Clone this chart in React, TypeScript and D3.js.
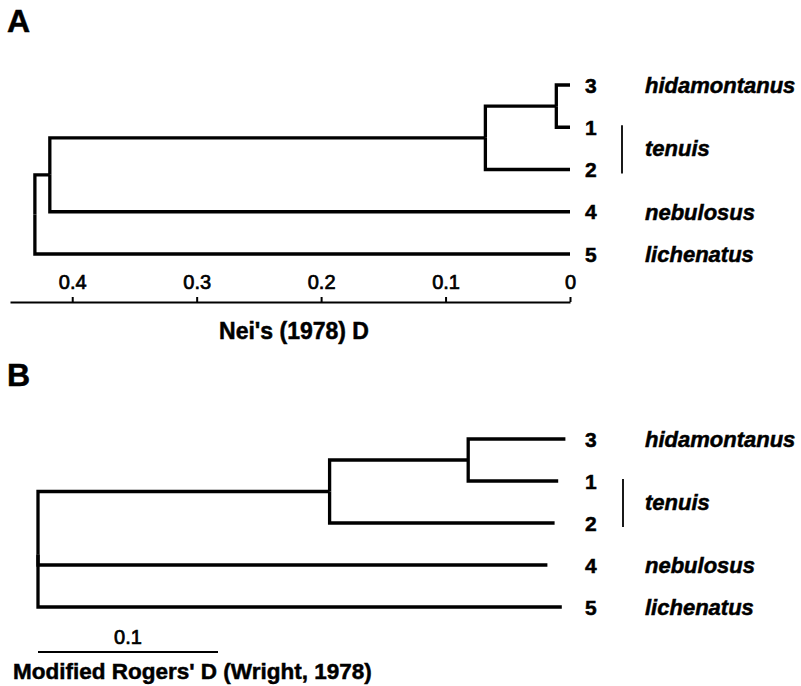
import { useEffect, useRef } from 'react'
import * as d3 from 'd3'

// leaf order top to bottom (population numbers)
const leafOrder = ['3', '1', '2', '4', '5']

// species labels, with the leaves they span
const species = [
    { name: 'hidamontanus', leaves: ['3'] },
    { name: 'tenuis', leaves: ['1', '2'] },
    { name: 'nebulosus', leaves: ['4'] },
    { name: 'lichenatus', leaves: ['5'] },
]

// A: UPGMA tree, node heights in Nei's D
const neiTree = {
    height: 0.43,
    children: [
        {
            height: 0.418,
            children: [
                {
                    height: 0.068,
                    children: [
                        { height: 0.011, children: [{ name: '3', height: 0 }, { name: '1', height: 0 }] },
                        { name: '2', height: 0 },
                    ],
                },
                { name: '4', height: 0 },
            ],
        },
        { name: '5', height: 0 },
    ],
}
const neiTicks = [0.4, 0.3, 0.2, 0.1, 0]

// B: tree with branch lengths in modified Rogers' D
const rogersTree = {
    length: 0,
    children: [
        {
            length: 0.162,
            children: [
                { length: 0.077, children: [{ name: '3', length: 0.054 }, { name: '1', length: 0.05 }] },
                { name: '2', length: 0.125 },
            ],
        },
        { name: '4', length: 0.283 },
        { name: '5', length: 0.291 },
    ],
}
const rogersBar = 0.1

const FONT = '"Liberation Sans", Arial, Helvetica, sans-serif'

// bold print text, a little heavier like the scan
function boldText(sel, size) {
    return sel
        .style('font-family', FONT)
        .style('font-weight', 'bold')
        .style('font-size', size + 'px')
        .style('stroke', '#000')
        .style('stroke-width', 0.5)
}

function drawTree(g, root, xOf, yScale) {
    // place leaves, then internal nodes at the middle of their children
    root.eachAfter(n => {
        n.px = xOf(n)
        if (n.children) {
            n.py = d3.mean(n.children, c => c.py)
        } else {
            n.py = yScale(n.data.name)
        }
    })

    g.selectAll('path.link')
        .data(root.links())
        .enter()
        .append('path')
        .attr('class', 'link')
        .attr('d', l => `M${l.source.px},${l.source.py}V${l.target.py}H${l.target.px}`)
        .style('fill', 'none')
        .style('stroke', '#000')
        .style('stroke-width', 3.3)
        .style('stroke-linejoin', 'miter')
}

function drawLabels(g, yScale, numX, nameX, barX) {
    g.selectAll('text.num')
        .data(leafOrder)
        .enter()
        .append('text')
        .attr('class', 'num')
        .attr('x', numX)
        .attr('y', d => yScale(d))
        .attr('dy', '0.36em')
        .call(boldText, 21)
        .text(d => d)

    g.selectAll('text.sp')
        .data(species)
        .enter()
        .append('text')
        .attr('class', 'sp')
        .attr('x', nameX)
        .attr('y', d => d3.mean(d.leaves, l => yScale(l)))
        .attr('dy', '0.36em')
        .call(boldText, 22)
        .style('font-style', 'italic')
        .text(d => d.name)

    g.selectAll('line.bar')
        .data(species.filter(d => d.leaves.length > 1))
        .enter()
        .append('line')
        .attr('class', 'bar')
        .attr('x1', barX)
        .attr('x2', barX)
        .attr('y1', d => yScale(d.leaves[0]) - 2)
        .attr('y2', d => yScale(d.leaves[d.leaves.length - 1]) + 4)
        .style('stroke', '#000')
        .style('stroke-width', 1.8)
}

function App() {
    const ref = useRef(null)

    useEffect(() => {
        document.body.style.margin = '0'
        const svg = d3.select(ref.current)
        svg.selectAll('*').remove()

        // ---------- panel A ----------
        const a = svg.append('g')
        a.append('text')
            .attr('x', 7)
            .attr('y', 32)
            .call(boldText, 32)
            .text('A')

        const xA = d3.scaleLinear().domain([0.45, 0]).range([10, 570])
        const yA = d3.scalePoint().domain(leafOrder).range([85, 254])
        const rootA = d3.hierarchy(neiTree)
        drawTree(a, rootA, n => xA(n.data.height), yA)
        drawLabels(a, yA, 585, 645, 622)

        const axisA = a.append('g')
            .attr('transform', 'translate(0,302)')
            .call(
                d3.axisTop(xA)
                    .tickValues(neiTicks)
                    .tickSize(5)
                    .tickSizeOuter(0)
                    .tickPadding(8)
                    .tickFormat(d => (d === 0 ? '0' : d3.format('.1f')(d)))
            )
        axisA.select('.domain').style('stroke-width', 2)
        axisA.selectAll('.tick line').style('stroke-width', 2)
        axisA.selectAll('.tick text')
            .style('font-family', FONT)
            .style('font-size', '20px')
            .style('stroke', '#000')
            .style('stroke-width', 0.7)
            .attr('fill', '#000')

        a.append('text')
            .attr('x', 294)
            .attr('y', 339)
            .attr('text-anchor', 'middle')
            .call(boldText, 23)
            .text("Nei's (1978) D")

        // ---------- panel B ----------
        const b = svg.append('g')
        b.append('text')
            .attr('x', 7)
            .attr('y', 386)
            .call(boldText, 32)
            .text('B')

        const xB = d3.scaleLinear().domain([0, 0.1]).range([38, 218])
        const yB = d3.scalePoint().domain(leafOrder).range([439, 607])
        const rootB = d3.hierarchy(rogersTree)
        rootB.eachBefore(n => {
            n.dist = (n.parent ? n.parent.dist : 0) + n.data.length
        })
        drawTree(b, rootB, n => xB(n.dist), yB)
        drawLabels(b, yB, 585, 645, 623)

        b.append('line')
            .attr('x1', xB(0))
            .attr('x2', xB(rogersBar))
            .attr('y1', 652)
            .attr('y2', 652)
            .style('stroke', '#000')
            .style('stroke-width', 2)
        b.append('text')
            .attr('x', (xB(0) + xB(rogersBar)) / 2)
            .attr('y', 644)
            .attr('text-anchor', 'middle')
            .style('font-family', FONT)
            .style('font-size', '20px')
            .style('stroke', '#000')
            .style('stroke-width', 0.7)
            .text(String(rogersBar))

        b.append('text')
            .attr('x', 13)
            .attr('y', 679)
            .call(boldText, 22.5)
            .text("Modified Rogers' D (Wright, 1978)")
    }, [])

    return (
        <svg ref={ref} width={801} height={686} style={{ display: 'block', background: '#fff' }} />
    )
}

export default App
